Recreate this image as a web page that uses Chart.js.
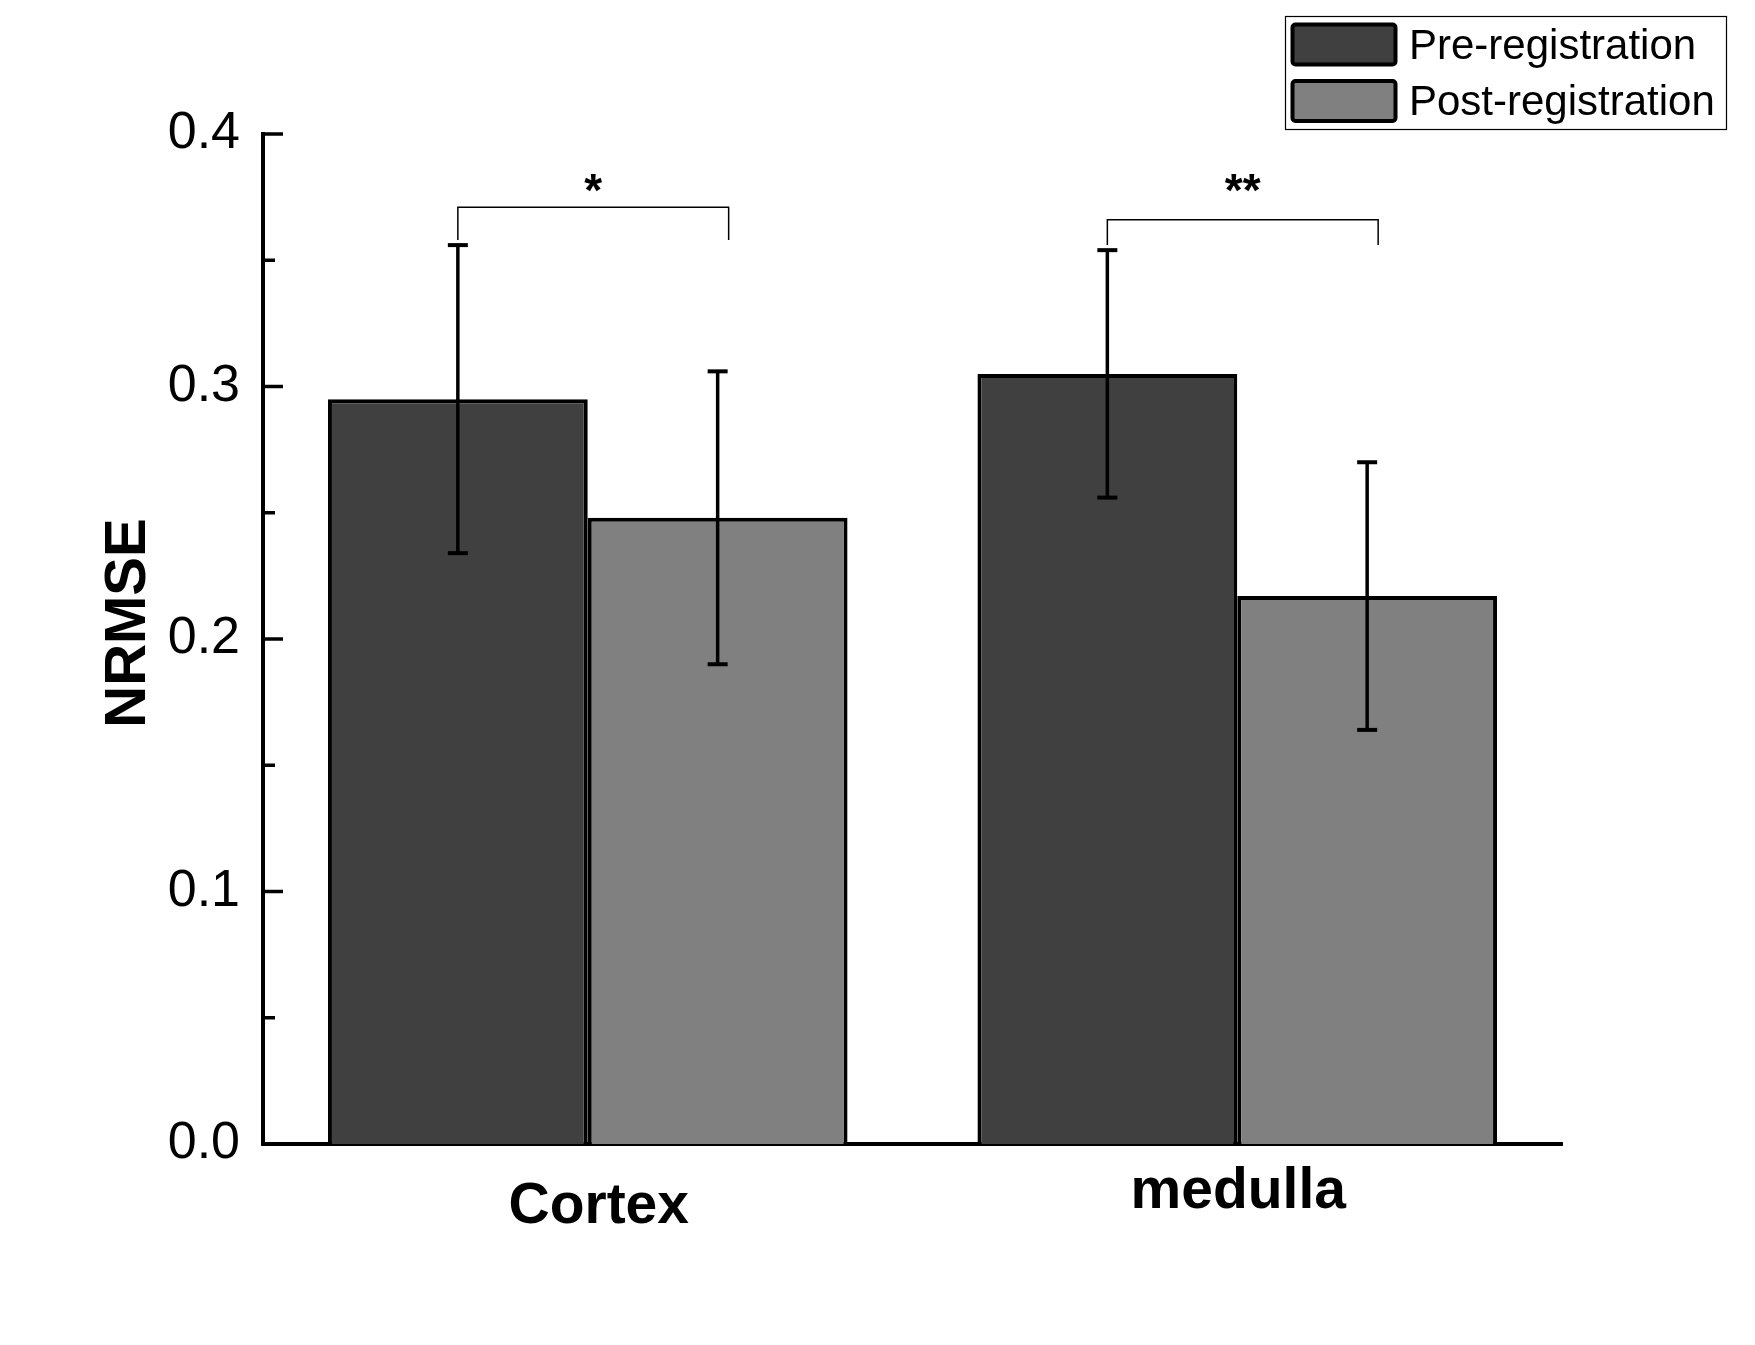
<!DOCTYPE html>
<html>
<head>
<meta charset="utf-8">
<title>NRMSE pre vs post registration</title>
<script src="https://cdn.jsdelivr.net/npm/chart.js@4.4.1/dist/chart.umd.min.js"></script>
<style>
  html, body { margin: 0; padding: 0; background: #fff; }
  #wrap { width: 1755px; height: 1345px; }
</style>
</head>
<body>
<div id="wrap"><canvas id="chart" width="1755" height="1345"></canvas></div>
<script>
// ---- values ----
const categories = ["Cortex", "medulla"];
const preValues = [0.295, 0.305];
const postValues = [0.248, 0.217];
const preErrors = [0.061, 0.049];
const postErrors = [0.058, 0.053];
const yTicks = [0.0, 0.1, 0.2, 0.3, 0.4];
const sigLabels = ["*", "**"];
const bracketTops = [0.371, 0.366];
const bracketFeet = [0.358, 0.356];

const FONT = "'Liberation Sans', Arial, sans-serif";

const line = (ctx, x1, y1, x2, y2) => {
    ctx.beginPath();
    ctx.moveTo(x1, y1);
    ctx.lineTo(x2, y2);
    ctx.stroke();
};

// ----------------------------------------------------
// Error bars, brackets, inward ticks, labels, legend
// ----------------------------------------------------
const decor = {
    id: "decor",
    afterDatasetsDraw(chart) {
        const { ctx, scales: { y } } = chart;
        ctx.save();
        ctx.strokeStyle = "#000";
        chart.data.datasets.forEach((ds, di) => {
            chart.getDatasetMeta(di).data.forEach((bar, i) => {
                const v = ds.data[i], e = ds.errors[i];
                const top = y.getPixelForValue(v + e);
                const bot = y.getPixelForValue(v - e);
                ctx.lineWidth = 3.5;
                line(ctx, bar.x, top, bar.x, bot);
                ctx.lineWidth = 4;
                line(ctx, bar.x - 10, top, bar.x + 10, top);
                line(ctx, bar.x - 10, bot, bar.x + 10, bot);
            });
        });
        ctx.restore();
    },
    afterDraw(chart) {
        const { ctx, chartArea, scales: { x, y } } = chart;
        const pre = chart.getDatasetMeta(0).data;
        const post = chart.getDatasetMeta(1).data;
        ctx.save();
        ctx.strokeStyle = "#000";
        ctx.fillStyle = "#000";

        // inward major + minor ticks on the y axis
        ctx.lineWidth = 3.5;
        yTicks.forEach((t, i) => {
            const py = y.getPixelForValue(t);
            if (i > 0) line(ctx, chartArea.left, py, chartArea.left + 20, py);
            if (i < yTicks.length - 1) {
                const my = y.getPixelForValue((t + yTicks[i + 1]) / 2);
                line(ctx, chartArea.left, my, chartArea.left + 12, my);
            }
        });

        // significance brackets
        ctx.lineWidth = 1.5;
        ctx.font = "bold 46px " + FONT;
        ctx.textAlign = "center";
        ctx.textBaseline = "alphabetic";
        categories.forEach((c, i) => {
            const x1 = pre[i].x;
            const x2 = post[i].x + 11;
            const top = y.getPixelForValue(bracketTops[i]);
            const foot = y.getPixelForValue(bracketFeet[i]);
            ctx.beginPath();
            ctx.moveTo(x1, foot);
            ctx.lineTo(x1, top);
            ctx.lineTo(x2, top);
            ctx.lineTo(x2, foot);
            ctx.stroke();
            ctx.fillText(sigLabels[i], (x1 + x2) / 2, chartArea.top + 72);
        });

        // category labels (they sit at slightly different heights in the source)
        const nudge = [{ dx: 11, dy: 79 }, { dx: 1, dy: 64 }];
        ctx.font = "bold 57px " + FONT;
        categories.forEach((c, i) => {
            ctx.fillText(c, x.getPixelForValue(i) + nudge[i].dx, chartArea.bottom + nudge[i].dy);
        });

        // y axis title
        ctx.save();
        ctx.translate(chartArea.left - 118, (chartArea.top + chartArea.bottom) / 2 - 16);
        ctx.rotate(-Math.PI / 2);
        ctx.font = "bold 58px " + FONT;
        ctx.fillText("NRMSE", 0, 0);
        ctx.restore();

        // legend box
        ctx.lineWidth = 1.2;
        ctx.strokeRect(1285.5, 16.5, 441, 113);
        ctx.font = "42px " + FONT;
        ctx.textAlign = "left";
        ctx.textBaseline = "middle";
        chart.data.datasets.forEach((ds, i) => {
            const sy = 23 + i * 56.5;
            ctx.fillStyle = ds.backgroundColor;
            ctx.lineWidth = 4;
            ctx.beginPath();
            ctx.roundRect(1292.5, sy + 1.5, 103, 40, 3);
            ctx.fill();
            ctx.stroke();
            ctx.fillStyle = "#000";
            ctx.fillText(ds.label, 1409, sy + 24);
        });
        ctx.restore();
    }
};

new Chart(document.getElementById("chart"), {
    type: "bar",
    data: {
        labels: categories,
        datasets: [
            {
                label: "Pre-registration",
                data: preValues,
                errors: preErrors,
                backgroundColor: "#404040",
                borderColor: "#000",
                borderWidth: 4
            },
            {
                label: "Post-registration",
                data: postValues,
                errors: postErrors,
                backgroundColor: "#808080",
                borderColor: "#000",
                borderWidth: 4
            }
        ]
    },
    options: {
        responsive: false,
        animation: false,
        devicePixelRatio: 1,
        layout: { padding: { left: 0, top: 134, right: 193, bottom: 0 } },
        datasets: { bar: { categoryPercentage: 0.8, barPercentage: 1.0 } },
        plugins: {
            legend: { display: false },
            tooltip: { enabled: false }
        },
        scales: {
            x: {
                z: 1,
                grid: { display: false },
                border: { display: true, color: "#000", width: 4 },
                ticks: { display: false },
                afterFit: s => { s.height = 201; }
            },
            y: {
                min: yTicks[0],
                max: yTicks[yTicks.length - 1],
                grid: { display: false, drawTicks: false },
                border: { display: true, color: "#000", width: 4 },
                afterBuildTicks: s => { s.ticks = yTicks.map(v => ({ value: v })); },
                ticks: {
                    padding: 23,
                    color: "#000",
                    font: { family: FONT, size: 52 },
                    callback: v => Number(v).toFixed(1)
                },
                afterFit: s => { s.width = 263; }
            }
        }
    },
    plugins: [decor]
});
</script>
</body>
</html>
